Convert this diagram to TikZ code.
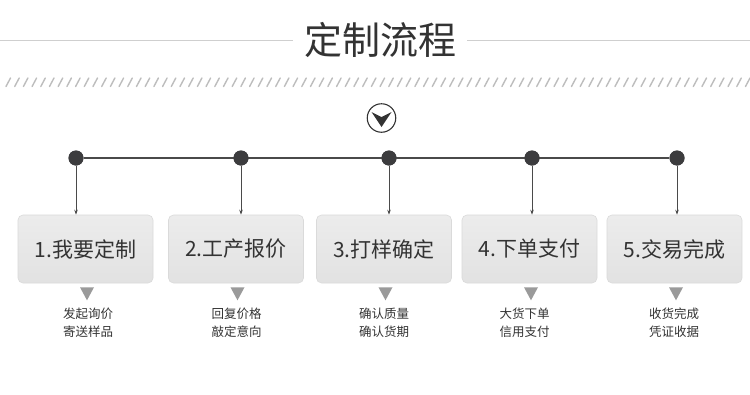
\documentclass[tikz,border=0pt]{standalone}
\usepackage{fontspec}
\setmainfont{Noto Sans CJK SC}
\usetikzlibrary{arrows.meta,calc}
\definecolor{ink}{HTML}{333333}
\definecolor{dotc}{HTML}{3C3C3E}
\definecolor{linec}{HTML}{4A4A4A}
\definecolor{rulec}{HTML}{CFCFCF}
\definecolor{hatchc}{HTML}{BDBDBD}
\definecolor{boxtop}{HTML}{ECECEC}
\definecolor{boxbot}{HTML}{E2E2E2}
\definecolor{boxedge}{HTML}{DADADA}
\definecolor{tric}{HTML}{9A9A9A}
\tikzset{
  stepbox/.style={rectangle, rounded corners=5pt, minimum width=135pt, minimum height=68pt,
    draw=boxedge, line width=0.6pt, top color=boxtop, bottom color=boxbot, text=ink,
    font=\fontsize{21}{24}\selectfont, inner sep=0pt},
  jdot/.style={circle, fill=dotc, minimum size=15pt, inner sep=0pt},
  note/.style={align=center, text=ink, font=\fontsize{12.5}{18}\selectfont, inner sep=0pt},
  conn/.style={draw=linec, line width=0.8pt, -{Stealth[length=5pt,width=3.5pt]}},
  hline/.style={draw=linec, line width=1.2pt},
  tri/.style={fill=tric},
}
\begin{document}
\begin{tikzpicture}[x=1pt,y=-1pt]
\useasboundingbox (0,0) rectangle (750,394);
\fill[white] (0,0) rectangle (750,394);
% title
\node[text=ink, font=\fontsize{38}{40}\selectfont, inner sep=0pt] (title) at (380,40) {定制流程};
\coordinate (tl) at (0,40);
\coordinate (tr) at (750,40);
\draw[rulec, line width=0.8pt] (tl) -- (293,40);
\draw[rulec, line width=0.8pt] (467,40) -- (tr);
% hatch band
\foreach \k in {0,...,86} {
  \draw[hatchc, line width=1.4pt, line cap=round] ({6+8.7*\k},86.5) -- ({10.5+8.7*\k},78);
}
% down icon
\node[circle, draw=ink, line width=1.1pt, minimum size=28.5pt, inner sep=0pt] (icon) at (381.5,118) {};
\fill[ink] ($(icon.center)+(-10,-6)$) -- ($(icon.center)+(0,9)$) -- ($(icon.center)+(10,-6)$) -- ($(icon.center)+(0,-1)$) -- cycle;
% dots
\node[jdot] (d1) at (76,158) {};
\node[jdot] (d2) at (241,158) {};
\node[jdot] (d3) at (389,158) {};
\node[jdot] (d4) at (532,158) {};
\node[jdot] (d5) at (677,158) {};
\draw[hline] (d1) -- (d5);
\foreach \i in {1,...,5} { \node[jdot] at (d\i) {}; }
% boxes
\node[stepbox] (b1) at (85.5,249) {1.我要定制};
\node[stepbox] (b2) at (236,249) {2.工产报价};
\node[stepbox] (b3) at (384,249) {3.打样确定};
\node[stepbox] (b4) at (529.5,249) {4.下单支付};
\node[stepbox] (b5) at (674.5,249) {5.交易完成};
% connectors
\foreach \i in {1,...,5} {
  \draw[conn] (d\i.south) -- (d\i |- b\i.north);
}
% triangles and notes
\foreach \i in {1,...,5} {
  \fill[tri] ($(b\i.south)+(-5.5,4)$) -- ($(b\i.south)+(8.5,4)$) -- ($(b\i.south)+(1.5,17)$) -- cycle;
}
\node[note] (n1) at ($(b1.south)+(2.5,39)$) {发起询价\\寄送样品};
\node[note] (n2) at ($(b2.south)+(0.5,39)$) {回复价格\\敲定意向};
\node[note] (n3) at ($(b3.south)+(0,39)$) {确认质量\\确认货期};
\node[note] (n4) at ($(b4.south)+(-5,39)$) {大货下单\\信用支付};
\node[note] (n5) at ($(b5.south)+(-0.5,39)$) {收货完成\\凭证收据};
\end{tikzpicture}
\end{document}
